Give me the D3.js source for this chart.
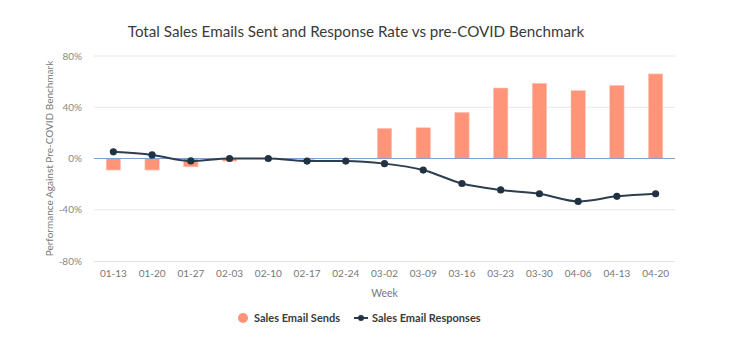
<!DOCTYPE html>
<html><head><meta charset="utf-8">
<script src="https://cdn.jsdelivr.net/npm/d3@7"></script>
<style>body{margin:0;background:#fff;}svg{display:block;font-family:Lato, "Open Sans", sans-serif;}</style>
</head><body>
<svg id="c" width="732" height="347"></svg>
<script>
const weeks = ["01-13","01-20","01-27","02-03","02-10","02-17","02-24","03-02","03-09","03-16","03-23","03-30","04-06","04-13","04-20"];
const sends = [-9, -9, -6.5, -2, -0.3, -1, -0.3, 23.5, 24, 36, 55, 58.7, 53, 57, 66];
const responses = [5.2, 2.8, -1.9, 0, 0, -2, -2, -4, -9, -19.5, -24.5, -27.5, -33.5, -29.5, -27.5];
const yTicks = [-80, -40, 0, 40, 80];

const svg = d3.select("#c");
const L = 94, R = 675, T = 56, B = 261;
const x = d3.scaleBand().domain(weeks).range([L, R]).paddingInner(0.63).paddingOuter(0.315);
const xc = d => x(d) + x.bandwidth() / 2;
const y = d3.scaleLinear().domain([-80, 80]).range([B, T]);

// gridlines
svg.append("g").selectAll("line").data(yTicks.filter(t => t !== 0 && t !== -80)).join("line")
  .attr("x1", L).attr("x2", R).attr("y1", d => y(d)).attr("y2", d => y(d))
  .attr("stroke", "#e8e8e8").attr("stroke-width", 1);

// y axis
const yAxis = d3.axisLeft(y).tickValues(yTicks).tickFormat(d => d + "%").tickSize(0).tickPadding(12);
const ya = svg.append("g").attr("transform", `translate(${L},0)`).call(yAxis);
ya.select(".domain").remove();
ya.selectAll("text").attr("fill", "#888").attr("font-size", 10).attr("font-family", "Lato, sans-serif");

// x axis
const xAxis = d3.axisBottom(x).tickSize(0).tickPadding(9);
const xa = svg.append("g").attr("transform", `translate(0,${B})`).call(xAxis);
xa.select(".domain").attr("stroke", "#dfe3f0").attr("d", `M${L},0.5H${R}`);
xa.selectAll("text").attr("fill", "#777").attr("font-size", 10).attr("font-family", "Lato, sans-serif");

// bars
svg.append("g").selectAll("rect").data(weeks).join("rect")
  .attr("x", d => x(d))
  .attr("width", x.bandwidth())
  .attr("y", (d, i) => y(Math.max(0, sends[i])))
  .attr("height", (d, i) => Math.abs(y(sends[i]) - y(0)))
  .attr("fill", "#ff9478").attr("stroke", "#ffc6b8").attr("stroke-width", 0.6);

// zero line
svg.append("line").attr("x1", L).attr("x2", R).attr("y1", y(0)).attr("y2", y(0))
  .attr("stroke", "#7f9fcf").attr("stroke-width", 1.2);

// line
const line = d3.line().x((d, i) => xc(weeks[i])).y(d => y(d)).curve(d3.curveMonotoneX);
svg.append("path").datum(responses).attr("d", line)
  .attr("fill", "none").attr("stroke", "#2d3e50").attr("stroke-width", 2);
svg.append("g").selectAll("circle").data(responses).join("circle")
  .attr("cx", (d, i) => xc(weeks[i])).attr("cy", d => y(d)).attr("r", 3.6)
  .attr("fill", "#213343");

// title
svg.append("text").attr("x", 356).attr("y", 37).attr("text-anchor", "middle")
  .attr("font-size", 15.2).attr("fill", "#3a3a3a").attr("font-family", "Lato, sans-serif")
  .text("Total Sales Emails Sent and Response Rate vs pre-COVID Benchmark");

// axis titles
svg.append("text").attr("transform", `translate(53,${(T + B) / 2}) rotate(-90)`).attr("text-anchor", "middle")
  .attr("font-size", 10).attr("fill", "#777").text("Performance Against Pre-COVID Benchmark");
svg.append("text").attr("x", (L + R) / 2).attr("y", 297).attr("text-anchor", "middle")
  .attr("font-size", 10.5).attr("fill", "#777").text("Week");

// legend
const lg = svg.append("g");
lg.append("circle").attr("cx", 243).attr("cy", 318).attr("r", 5).attr("fill", "#ff9478");
lg.append("text").attr("x", 254).attr("y", 322).attr("font-size", 11).attr("font-weight", "bold")
  .attr("fill", "#3a3a3a").text("Sales Email Sends");
lg.append("line").attr("x1", 354).attr("x2", 368).attr("y1", 318).attr("y2", 318).attr("stroke", "#2d3e50").attr("stroke-width", 2);
lg.append("circle").attr("cx", 361).attr("cy", 318).attr("r", 3).attr("fill", "#213343");
lg.append("text").attr("x", 372).attr("y", 322).attr("font-size", 11).attr("font-weight", "bold")
  .attr("fill", "#3a3a3a").text("Sales Email Responses");
</script>
</body></html>
